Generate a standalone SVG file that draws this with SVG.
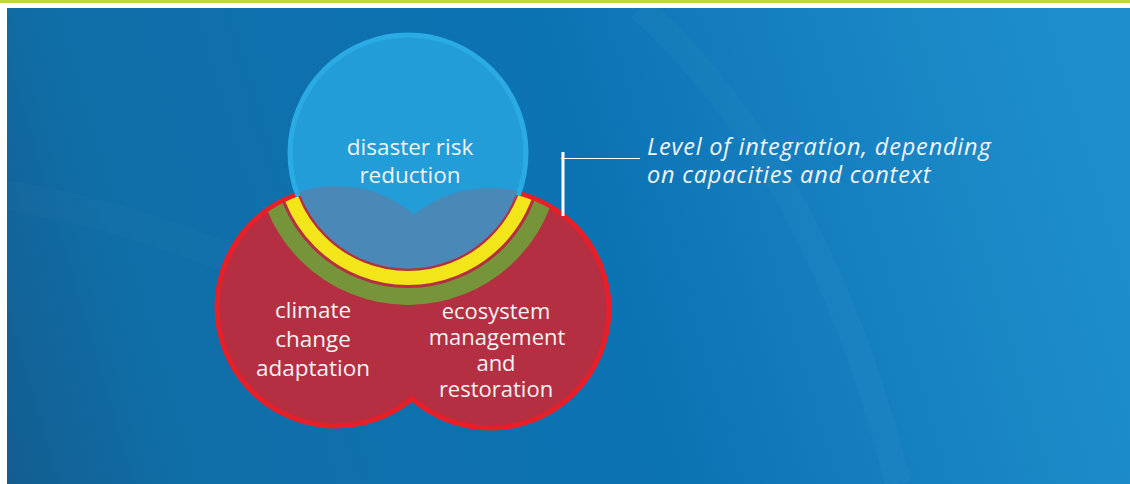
<svg xmlns="http://www.w3.org/2000/svg" width="1130" height="484" viewBox="0 0 1130 484">
  <defs>
    <linearGradient id="bg" gradientUnits="userSpaceOnUse" x1="0" y1="484" x2="1130" y2="150">
      <stop offset="0" stop-color="#135d90"/>
      <stop offset="0.15" stop-color="#106ea7"/>
      <stop offset="0.55" stop-color="#0c73b3"/>
      <stop offset="0.72" stop-color="#147ebe"/>
      <stop offset="0.9" stop-color="#1c8ac8"/>
      <stop offset="1" stop-color="#1e8ecd"/>
    </linearGradient>
    <!-- area of the two lower circles (stroke centre) -->
    <clipPath id="lowerOuter">
      <circle cx="336" cy="307" r="121"/>
      <circle cx="490" cy="309" r="121"/>
    </clipPath>
    <!-- area of the two lower circles inside their outline -->
    <clipPath id="lowerInner">
      <circle cx="336" cy="307" r="117"/>
      <circle cx="490" cy="309" r="117"/>
    </clipPath>
    <style>
      .label { font-family: "Open Sans", "Noto Sans", sans-serif; font-size: 22.5px; fill: #f2f2f2; text-anchor: middle; }
      .tight { font-size: 22px; }
      .note { font-family: "Open Sans", "Noto Sans", sans-serif; font-style: italic; font-size: 23.5px; letter-spacing: 0.8px; fill: #f2f2f2; }
      .lead { stroke: #ffffff; fill: none; }
    </style>
  </defs>

  <!-- page frame -->
  <rect x="0" y="0" width="1130" height="484" fill="#ffffff"/>
  <rect x="0" y="0" width="1130" height="3" fill="#bfd645"/>
  <rect x="7" y="8" width="1123" height="476" fill="url(#bg)"/>
  <!-- soft light sweeps in the backdrop -->
  <path d="M 640 8 Q 820 170 898 484" fill="none" stroke="#ffffff" stroke-opacity="0.025" stroke-width="26"/>
  <path d="M 7 195 Q 140 218 260 272" fill="none" stroke="#ffffff" stroke-opacity="0.015" stroke-width="30"/>

  <!-- lower pair: climate change adaptation + ecosystem management -->
  <g id="lower-circles">
    <path d="M 414.18 217.28 A 119 119 0 1 0 411.82 398.72 A 119 119 0 1 0 414.18 217.28 Z"
          fill="#b52f42" stroke="#e81f28" stroke-width="5" stroke-linejoin="miter"/>
  </g>

  <!-- upper circle: disaster risk reduction -->
  <g id="drr">
    <circle cx="408" cy="153" r="118" fill="#229dd8" stroke="#2babe4" stroke-width="5"/>
    <!-- overlap with the lower pair -->
    <circle cx="408" cy="153" r="116" fill="#4a89b7" clip-path="url(#lowerOuter)"/>
  </g>

  <!-- integration bands round the upper circle -->
  <g id="integration-bands" clip-path="url(#lowerInner)" fill="none">
    <circle cx="408" cy="153" r="117.2" stroke="#b52f42" stroke-width="3"/>
    <circle cx="408" cy="153" r="125" stroke="#f2e61b" stroke-width="14"/>
    <circle cx="408" cy="153" r="143.5" stroke="#76953a" stroke-width="17"/>
  </g>

  <g id="labels">
    <text class="label" x="410" y="155">disaster risk</text>
    <text class="label" x="410" y="183">reduction</text>
    <text class="label" x="313" y="318">climate</text>
    <text class="label" x="313" y="347">change</text>
    <text class="label" x="313" y="376">adaptation</text>
    <text class="label tight" x="496" y="318.5">ecosystem</text>
    <text class="label tight" x="497" y="344.5">management</text>
    <text class="label tight" x="496" y="370.5">and</text>
    <text class="label tight" x="496" y="396.5">restoration</text>
  </g>

  <!-- leader line to the note -->
  <g id="connectors">
    <line class="lead" x1="563" y1="152" x2="563" y2="216" stroke-width="3"/>
    <line class="lead" x1="561" y1="158.5" x2="640" y2="158.5" stroke-width="1.2"/>
  </g>

  <g id="note">
    <text class="note" x="647" y="155">Level of integration, depending</text>
    <text class="note" x="647" y="183">on capacities and context</text>
  </g>
</svg>
